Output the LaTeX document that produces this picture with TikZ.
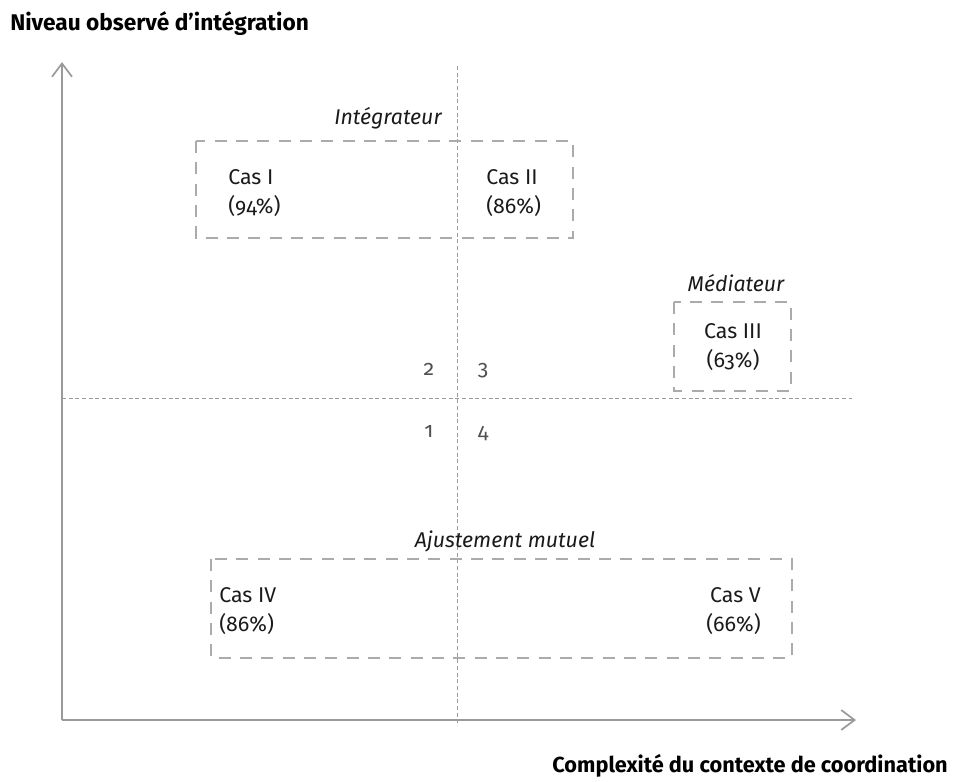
\documentclass[tikz,border=0pt]{standalone}
\usepackage{fontspec}
\setmainfont{Fira Sans}[Numbers=OldStyle]
\usetikzlibrary{arrows.meta}
\definecolor{axisgray}{HTML}{9A9A9A}
\definecolor{boxgray}{HTML}{ABABAB}
\definecolor{txt}{HTML}{1A1A1A}
\definecolor{numgray}{HTML}{505050}
\tikzset{
  axis/.style={draw=axisgray, line width=1.5pt, -{Straight Barb[length=10pt,width=15pt,line width=1.3pt]}},
  quad/.style={draw=axisgray, line width=0.7pt, dash pattern=on 3pt off 2pt},
  group/.style={draw=boxgray, line width=1pt, dash pattern=on 9pt off 7pt},
  case/.style={font=\fontsize{16}{22}\selectfont, text=txt, inner sep=0pt, align=left},
  grouptitle/.style={font=\fontsize{16}{19}\selectfont\itshape, text=txt, inner sep=0pt},
  quadnum/.style={font=\fontsize{16}{18}\selectfont, text=numgray, inner sep=0pt},
  axistitle/.style={font=\fontsize{17}{20}\selectfont\bfseries, text=black, inner sep=0pt}
}
\begin{document}
\begin{tikzpicture}[x=0.75pt,y=-0.75pt]
  \useasboundingbox (0,0) rectangle (958,782);

  % axes
  \coordinate (origin) at (62,720);
  \coordinate (ytip) at (62,62);
  \coordinate (xtip) at (856,720);
  \draw[axis] (origin) -- (ytip);
  \draw[axis] (origin) -- (xtip);

  % quadrant separators
  \coordinate (vtop) at (457,66);
  \coordinate (vbot) at (457,726);
  \coordinate (hleft) at (62,398);
  \coordinate (hright) at (852,398);
  \draw[quad] (vtop) -- (vbot);
  \draw[quad] (hleft) -- (hright);

  % axis titles
  \node[axistitle, anchor=west] (ytitle) at (10,24) {Niveau observé d’intégration};
  \node[axistitle, anchor=east, font=\fontsize{16.3}{19}\selectfont\bfseries] (xtitle) at (948,766) {Complexité du contexte de coordination};

  % quadrant numbers
  \node[quadnum] (q2) at (429,369) {2};
  \node[quadnum] (q3) at (483,371) {3};
  \node[quadnum] (q1) at (429,431) {1};
  \node[quadnum] (q4) at (483,434) {4};

  % group: integrateur
  \draw[group] (196,141) rectangle (573,238);
  \node[grouptitle] (gint) at (388,118) {Intégrateur};
  \node[case, anchor=north west] (c1) at (228,169) {Cas I\\(94\%)};
  \node[case, anchor=north west] (c2) at (486,169) {Cas II\\(86\%)};

  % group: mediateur
  \draw[group] (674,302) rectangle (791,391);
  \node[grouptitle] (gmed) at (736,283) {Médiateur};
  \node[case, anchor=north, align=center] (c3) at (733,323) {Cas III\\(63\%)};

  % group: ajustement mutuel
  \draw[group] (211,559) rectangle (792,658);
  \node[grouptitle] (gaj) at (505,541) {Ajustement mutuel};
  \node[case, anchor=north west] (c4) at (219,587) {Cas IV\\(86\%)};
  \node[case, anchor=north east, align=right] (c5) at (761,587) {Cas V\\(66\%)};
\end{tikzpicture}
\end{document}
